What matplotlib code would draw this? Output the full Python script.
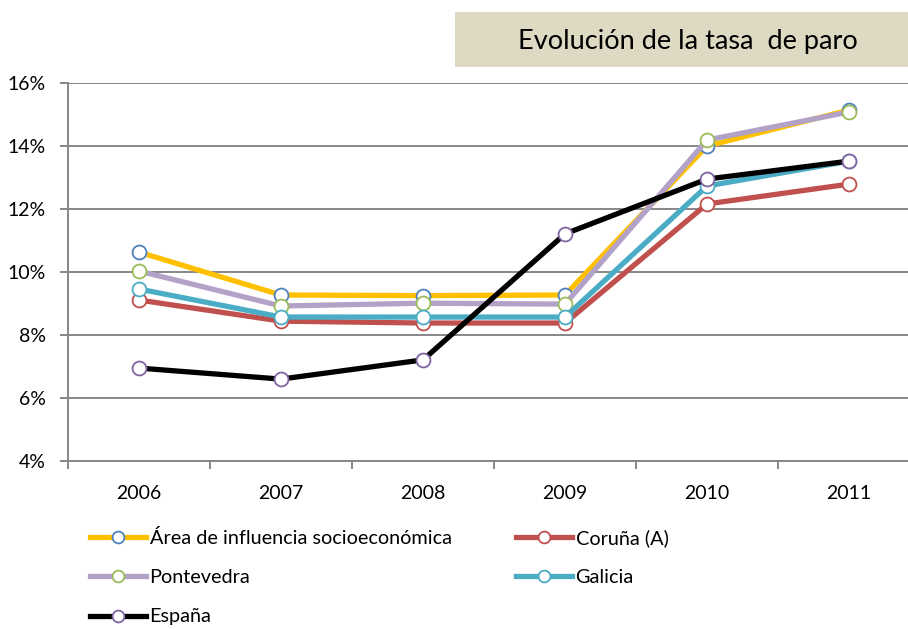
import matplotlib
matplotlib.use('Agg')
import matplotlib.pyplot as plt
from matplotlib.patches import Rectangle

years = ['2006', '2007', '2008', '2009', '2010', '2011']

area = [10.63, 9.27, 9.25, 9.27, 14.00, 15.14]
coruna = [9.11, 8.44, 8.38, 8.38, 12.16, 12.79]
pontevedra = [10.03, 8.92, 9.01, 8.98, 14.19, 15.08]
galicia = [9.46, 8.57, 8.57, 8.57, 12.73, 13.52]
espana = [6.95, 6.60, 7.21, 11.21, 12.95, 13.52]

labels = ['Área de influencia socioeconómica', 'Coruña (A)', 'Pontevedra', 'Galicia', 'España']
series = [area, coruna, pontevedra, galicia, espana]
line_colors = ['#FFC000', '#C0504D', '#B3A2C7', '#4BACC6', '#000000']
edge_colors = ['#4F81BD', '#C0504D', '#9BBB59', '#4BACC6', '#8064A2']

y_ticks = [4, 6, 8, 10, 12, 14, 16]
title = 'Evolución de la tasa  de paro'

plt.rcParams['font.family'] = ['Lato', 'DejaVu Sans']
grid_col = '#878787'

fig = plt.figure(figsize=(9.08, 6.29), dpi=100)
ax = fig.add_axes([68 / 908, 168 / 629, 840 / 908, 378 / 629])

x = list(range(len(years)))
handles = []
for vals, lab, lc, ec in zip(series, labels, line_colors, edge_colors):
    h, = ax.plot(x, vals, color=lc, lw=3.8, marker='o', ms=10,
                 mfc='white', mec=ec, mew=1.3, label=lab, clip_on=False)
    handles.append(h)

ax.set_xlim(-0.5, 5.415)
ax.set_ylim(4, 16)
ax.set_yticks(y_ticks)
ax.set_yticklabels([f'{v}%' for v in y_ticks])
ax.yaxis.grid(True, color=grid_col, lw=1.4)
ax.set_axisbelow(True)

ax.set_xticks([i - 0.5 for i in x])
ax.set_xticklabels([])
ax.set_xticks(x, minor=True)
ax.set_xticklabels(years, minor=True)
ax.tick_params(axis='x', which='major', length=6, width=1.4, color=grid_col, direction='out')
ax.tick_params(axis='x', which='minor', length=0, pad=17, labelsize=14)
ax.tick_params(axis='y', length=6, width=1.4, color=grid_col, pad=10, labelsize=14)

for s in ['top', 'right']:
    ax.spines[s].set_visible(False)
for s in ['left', 'bottom']:
    ax.spines[s].set_color(grid_col)
    ax.spines[s].set_linewidth(1.4)

# title box
fig.patches.append(Rectangle((455 / 908, 1 - 67 / 629), 453 / 908, 55 / 629,
                             transform=fig.transFigure, facecolor='#DDD9C3',
                             edgecolor='none'))
fig.text(688 / 908, 1 - 41 / 629, title, ha='center', va='center', fontsize=19.5)

# legend: two fixed columns, filled row by row
leg_kw = dict(loc='upper left', frameon=False, fontsize=14.3, handlelength=2.8,
              handletextpad=0.2, labelspacing=1.12, borderaxespad=0, borderpad=0)
col1 = [0, 2, 4]
col2 = [1, 3]
leg1 = fig.legend([handles[i] for i in col1], [labels[i] for i in col1],
                  bbox_to_anchor=(90 / 908, 1 - 529 / 629), **leg_kw)
leg2 = fig.legend([handles[i] for i in col2], [labels[i] for i in col2],
                  bbox_to_anchor=(516 / 908, 1 - 529 / 629), **leg_kw)
for leg in (leg1, leg2):
    for lh in leg.legend_handles:
        lh.set_markersize(8.5)

fig.savefig('out.png', dpi=100)
